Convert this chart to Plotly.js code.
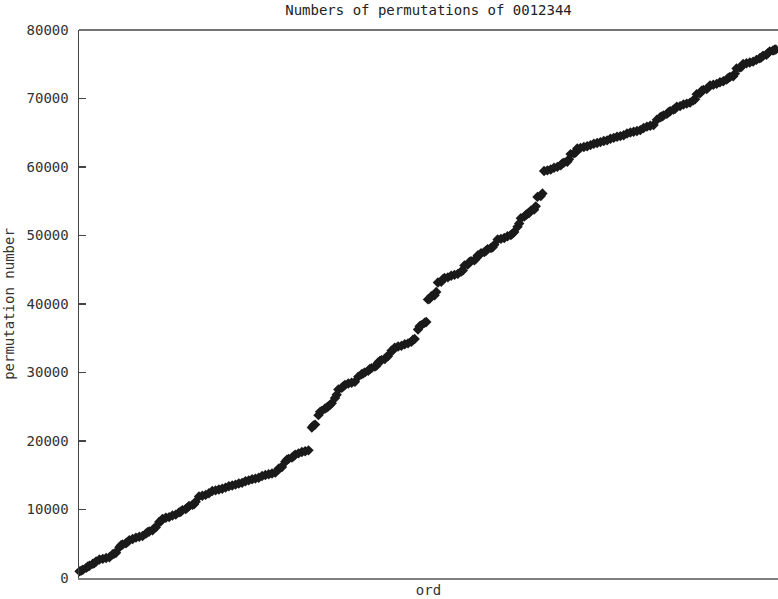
<!DOCTYPE html>
<html>
<head>
<meta charset="utf-8">
<script src="https://cdn.plot.ly/plotly-3.0.1.min.js"></script>
<style>
  html, body { margin: 0; padding: 0; background: #ffffff; }
  #chart { width: 778px; height: 599px; }
</style>
</head>
<body>
<div id="chart"></div>
<script>
// Ordinal position of the permutation (x)
const ord = [
  0,3,6,12,15,18,24,27,30,36,42,48,54,
  60,63,66,72,75,78,84,87,90,96,102,108,114,
  120,123,126,132,135,138,144,147,150,156,162,168,174,
  180,183,186,192,195,198,204,207,210,216,222,228,234,
  240,246,252,258,264,270,276,282,288,294,300,306,312,318,324,330,336,342,348,354,
  360,363,366,372,375,378,384,387,390,396,402,408,414,
  420,423,426,432,435,438,444,447,
  450,453,456,462,465,468,474,477,
  480,486,492,498,504,510,513,516,522,525,528,534,537,
  540,543,546,552,555,558,564,567,570,576,582,588,594,
  600,603,606,612,615,618,624,627,
  630,633,636,642,645,648,654,657,
  660,666,672,678,684,690,693,696,702,705,708,714,717,
  720,723,726,732,735,738,744,747,750,756,762,768,774,
  780,783,786,792,795,798,804,807,
  810,813,816,822,825,828,834,837,
  840,846,852,858,864,870,873,876,882,885,888,894,897,
  900,906,912,918,924,930,936,942,948,954,960,966,972,978,984,990,996,1002,1008,1014,
  1020,1026,1032,1038,1044,1050,1053,1056,1062,1065,1068,1074,1077,
  1080,1086,1092,1098,1104,1110,1113,1116,1122,1125,1128,1134,1137,
  1140,1146,1152,1158,1164,1170,1173,1176,1182,1185,1188,1194,1197,
  1200,1206,1212,1218,1224,1230,1233,1236,1242,1245,1248,1254,1257,
  1259
];

// Permutation number (y)
const permNumber = [
  974,1074,1194,1474,1674,1794,2074,2174,2414,2694,2794,2914,3038,
  3474,3574,3694,4474,4774,4894,5074,5274,5514,5694,5894,6014,6138,
  6474,6674,6794,6974,7274,7394,8174,8274,8634,8794,8894,9134,9258,
  9574,9674,9914,10074,10274,10514,10674,10774,11134,11914,12014,12134,12382,
  12694,12794,12914,13038,13194,13394,13514,13638,13794,13894,14134,14258,14414,14514,14634,14882,15038,15138,15258,15382,
  15974,16074,16194,16974,17274,17394,17574,17774,18014,18194,18394,18514,18638,
  21974,22274,22394,23774,24254,24394,24754,24878,
  25074,25274,25514,26274,26754,27514,27754,28002,
  28194,28394,28514,28638,29394,29754,29878,30014,30254,30502,30638,30878,31002,
  31474,31674,31794,31974,32274,32394,33174,33274,33634,33794,33894,34134,34258,
  34474,34774,34894,36274,36754,36894,37254,37378,
  40674,40774,41134,41274,41754,43134,43254,43626,
  43794,43894,44134,44258,44394,44754,44878,45634,45754,46126,46258,46378,46626,
  47074,47174,47414,47574,47774,48014,48174,48274,48634,49414,49514,49634,49882,
  50074,50274,50514,51274,51754,52514,52754,53002,
  53174,53274,53634,53774,54254,55634,55754,56126,
  59414,59514,59634,59882,60014,60254,60502,60634,60754,61126,61882,62002,62126,
  62694,62794,62914,63038,63194,63394,63514,63638,63794,63894,64134,64258,64414,64514,64634,64882,65038,65138,65258,65382,
  65694,65894,66014,66138,66894,67254,67378,67514,67754,68002,68138,68378,68502,
  68794,68894,69134,69258,69394,69754,69878,70634,70754,71126,71258,71378,71626,
  71914,72014,72134,72382,72514,72754,73002,73134,73254,73626,74382,74502,74626,
  75038,75138,75258,75382,75638,75878,76002,76258,76378,76626,76882,77002,77126,
  77150
];

const yTickVals = [0,10000,20000,30000,40000,50000,60000,70000,80000];
const yTickText = ["0","10000","20000","30000","40000","50000","60000","70000","80000"];

const chartTitle = "Numbers of permutations of 0012344";
const xTitle = "ord";
const yTitle = "permutation number";

const mono = "DejaVu Sans Mono, Liberation Mono, monospace";

const trace = {
  type: "scatter",
  mode: "markers",
  x: ord,
  y: permNumber,
  marker: { symbol: "diamond", size: 8, color: "#1a1a1a", line: { width: 0 } },
  cliponaxis: false,
  hoverinfo: "x+y"
};

const layout = {
  width: 778,
  height: 599,
  margin: { l: 79, r: 0, t: 30, b: 21, pad: 0 },
  paper_bgcolor: "#ffffff",
  plot_bgcolor: "#ffffff",
  showlegend: false,
  font: { family: mono, size: 14, color: "#333333" },
  title: {
    text: chartTitle,
    font: { family: mono, size: 14, color: "#222222" },
    xref: "paper", x: 0.5, xanchor: "center",
    yref: "container", y: 1 - 10/599, yanchor: "middle"
  },
  xaxis: {
    range: [-1, 1263],
    showgrid: false,
    zeroline: false,
    showticklabels: false,
    ticks: "",
    showline: true,
    linecolor: "#7f7f7f",
    linewidth: 2,
    title: { text: xTitle, font: { family: mono, size: 14, color: "#333333" }, standoff: 6 }
  },
  yaxis: {
    range: [0, 80000],
    showgrid: false,
    zeroline: false,
    tickmode: "array",
    tickvals: yTickVals,
    ticktext: yTickText,
    ticks: "inside",
    ticklen: 7,
    tickwidth: 1.5,
    tickcolor: "#444444",
    showline: true,
    linecolor: "#444444",
    linewidth: 1.5,
    ticklabelstandoff: 6,
    tickfont: { family: mono, size: 14, color: "#333333" },
    title: { text: yTitle, font: { family: mono, size: 14, color: "#333333" }, standoff: 8 }
  },
  shapes: [
    { type: "line", xref: "paper", yref: "paper", x0: 0, x1: 1, y0: 1, y1: 1,
      line: { color: "#444444", width: 1.5 } }
  ]
};

Plotly.newPlot("chart", [trace], layout, { displayModeBar: false, staticPlot: true });
</script>
</body>
</html>
